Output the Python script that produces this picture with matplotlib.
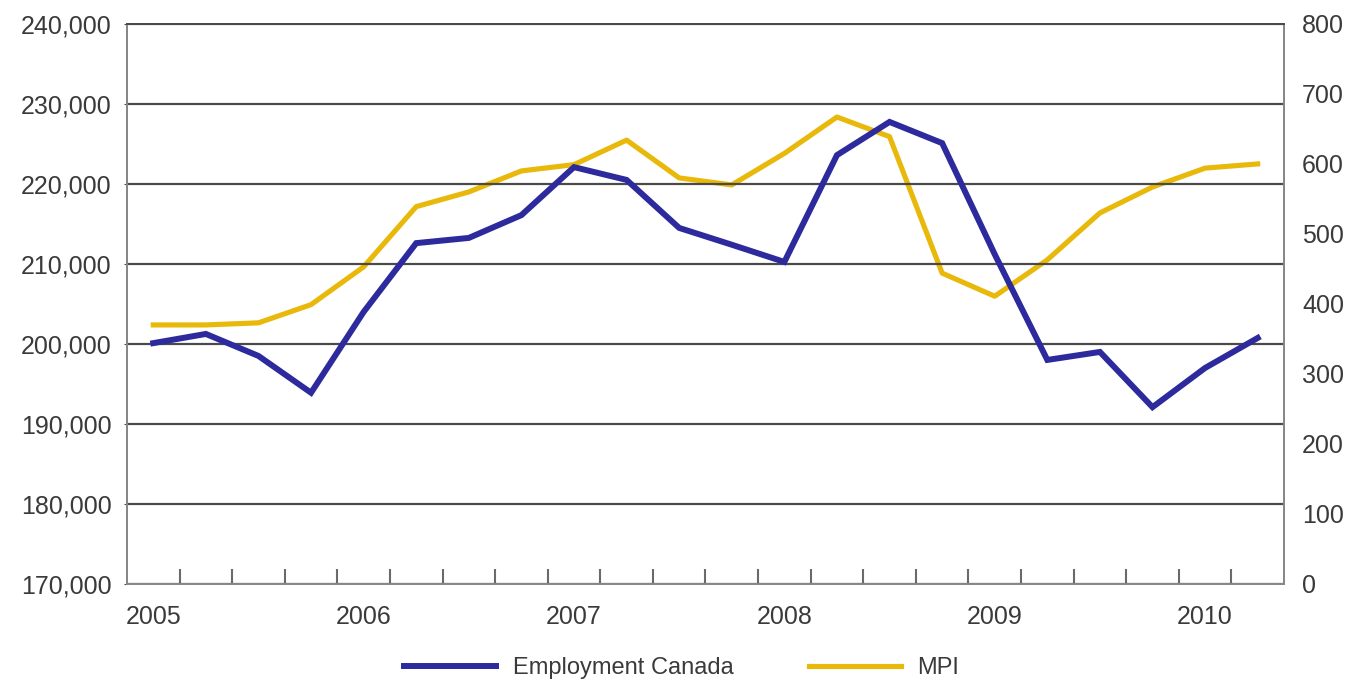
import matplotlib
matplotlib.use('Agg')
import matplotlib.pyplot as plt
from matplotlib.ticker import FuncFormatter, FixedLocator

# quarterly data, 2005 Q1 .. 2010 Q2
quarters   = ["2005 Q1", "2005 Q2", "2005 Q3", "2005 Q4",
              "2006 Q1", "2006 Q2", "2006 Q3", "2006 Q4",
              "2007 Q1", "2007 Q2", "2007 Q3", "2007 Q4",
              "2008 Q1", "2008 Q2", "2008 Q3", "2008 Q4",
              "2009 Q1", "2009 Q2", "2009 Q3", "2009 Q4",
              "2010 Q1", "2010 Q2"]
employment = [200100, 201250, 198500, 193900, 204000, 212600, 213250, 216100,
              222100, 220500, 214500, 212400, 210250, 223600, 227750, 225100,
              211200, 198000, 199000, 192100, 197000, 200750]
mpi        = [370, 370, 373, 399, 453, 539, 560, 590, 599, 634, 580, 570,
              615, 667, 639, 444, 411, 463, 530, 567, 594, 600]
year_labels = ["2005", "2006", "2007", "2008", "2009", "2010"]

BLUE   = '#2C2A9C'
YELLOW = '#E8B90A'
GRID   = '#4a4a4a'
TEXT   = '#3a3a3a'
FS     = 18

plt.rcParams['font.family'] = ['Liberation Sans', 'DejaVu Sans']

fig = plt.figure(figsize=(13.58, 6.83), dpi=100)
ax = fig.add_axes([0.0935, 0.145, 0.852, 0.82])
ax2 = ax.twinx()

x = list(range(len(quarters)))
l1, = ax.plot(x, employment, color=BLUE, linewidth=4.3, solid_joinstyle='miter',
              label='Employment Canada', zorder=4)
l2, = ax2.plot(x, mpi, color=YELLOW, linewidth=3.7, label='MPI', zorder=3)
ax.set_zorder(ax2.get_zorder() + 1)
ax.patch.set_visible(False)

ax.set_xlim(-0.5, len(quarters) - 0.5)
ax.set_ylim(170000, 240000)
ax.set_yticks(range(170000, 240001, 10000))
ax.yaxis.set_major_formatter(FuncFormatter(lambda v, p: f"{int(v):,}"))
ax.grid(axis='y', color=GRID, linewidth=1.6)
ax.tick_params(axis='y', length=2, color=GRID, labelsize=FS, labelcolor=TEXT, pad=9)

ax2.set_ylim(0, 800)
ax2.set_yticks(range(0, 801, 100))
ax2.tick_params(axis='y', length=0, labelsize=FS, labelcolor=TEXT, pad=13)

# year labels on first quarter of each year, tick marks between quarters
ax.set_xticks([i for i in x if quarters[i].endswith("Q1")])
ax.set_xticklabels(year_labels)
ax.xaxis.set_minor_locator(FixedLocator([i + 0.5 for i in x[:-1]]))
ax.tick_params(axis='x', which='major', length=0, labelsize=FS, labelcolor=TEXT, pad=15)
ax.tick_params(axis='x', which='minor', direction='in', length=11, width=1.5, color='#6a6a6a')

for a in (ax, ax2):
    for s in a.spines.values():
        s.set_color('#888888')
        s.set_linewidth(1.4)
    a.spines['top'].set_color(GRID)

fig.legend(handles=[l1, l2], loc='center', bbox_to_anchor=(0.502, 0.022),
           ncol=2, frameon=False, fontsize=17, handlelength=3.9,
           handletextpad=0.7, columnspacing=3.2, labelcolor=TEXT)

plt.savefig('out.png', dpi=100)
plt.close()
